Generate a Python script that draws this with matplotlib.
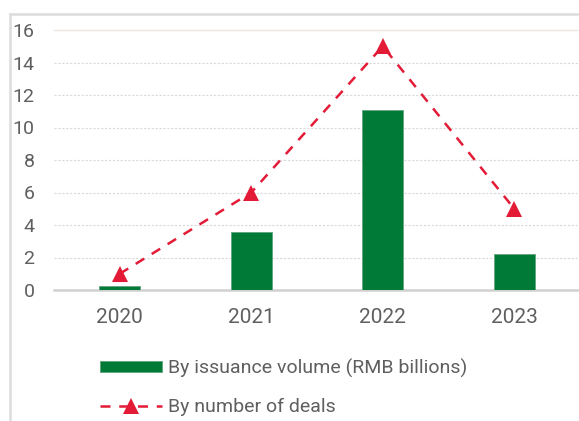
import matplotlib
matplotlib.use("Agg")
import matplotlib.pyplot as plt
from matplotlib.lines import Line2D
import numpy as np

years = ["2020", "2021", "2022", "2023"]
volume = [0.25, 3.6, 11.1, 2.2]
deals = [1, 6, 15, 5]
y_ticks = [0, 2, 4, 6, 8, 10, 12, 14, 16]

GREEN = "#007A37"
RED = "#E31B37"
TXT = "#5f5f5f"

plt.rcParams['font.family'] = ['Roboto', 'DejaVu Sans']

fig = plt.figure(figsize=(5.79, 4.21), dpi=100)
W, H = 579, 421
ax = fig.add_axes([54 / W, 1 - 290 / H, (580 - 54) / W, (290 - 30) / H])

x = np.arange(len(years))
bars = ax.bar(x, volume, width=0.31, color=GREEN, edgecolor="#5fa57d", linewidth=0.6, zorder=3,
              label="By issuance volume (RMB billions)")
line, = ax.plot(x, deals, color=RED, linestyle=(0, (4, 3.5)), linewidth=1.8, marker="^",
                markersize=11, markeredgewidth=0, zorder=4, label="By number of deals")

ax.set_xlim(-0.5, 3.5)
ax.set_ylim(0, 16)
ax.set_yticks(y_ticks)
ax.set_yticklabels([str(v) for v in y_ticks])
ax.set_xticks(x)
ax.set_xticklabels(years)
ax.tick_params(axis="y", length=0, pad=14, labelsize=14, labelcolor=TXT)
ax.tick_params(axis="x", length=0, pad=13, labelsize=15, labelcolor=TXT)

for v in y_ticks[1:-1]:
    ax.axhline(v, color="#d9d9d9", linewidth=0.8, linestyle=(0, (2, 1.5)), zorder=1)

for s in ["left", "right"]:
    ax.spines[s].set_visible(False)
ax.spines["top"].set_color("#ece8dc")
ax.spines["top"].set_linewidth(1.0)
ax.spines["bottom"].set_color("#d0d0d0")
ax.spines["bottom"].set_linewidth(1.8)

# outer frame lines
fig.add_artist(Line2D([10 / W, 1], [1 - 14 / H, 1 - 14 / H], color="#dcdcdc", linewidth=1.8))
fig.add_artist(Line2D([10 / W, 10 / W], [1 - 14 / H, 0], color="#dcdcdc", linewidth=1.8))

leg = fig.legend([bars, line], ["By issuance volume (RMB billions)", "By number of deals"],
                 loc="upper left", bbox_to_anchor=(82 / W, 1 - 341 / H),
                 frameon=False, fontsize=14, handlelength=3.2, handleheight=0.45,
                 labelspacing=1.05, handletextpad=0.3, labelcolor=TXT)

fig.savefig("out.png", dpi=100)
